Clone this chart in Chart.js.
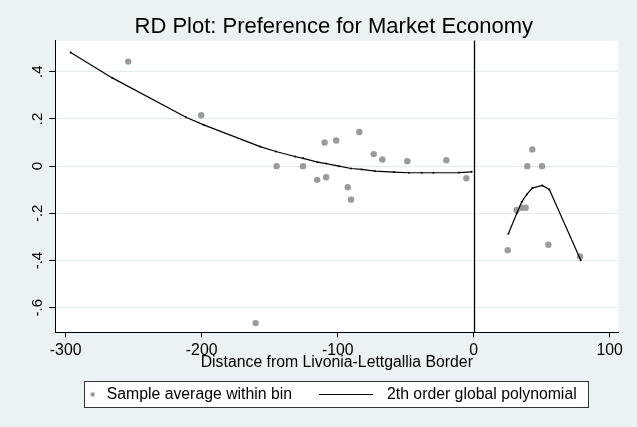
<!DOCTYPE html>
<html><head><meta charset="utf-8">
<script src="https://cdn.jsdelivr.net/npm/chart.js@4.4.1/dist/chart.umd.min.js"></script>
<style>html,body{margin:0;padding:0;background:#EAF2F3;}canvas{display:block;}</style>
</head><body>
<canvas id="c" width="637" height="427"></canvas>
<script>
// ---- data ----
const binX = [-254.0, -200.3, -160.3, -144.9, -125.5, -115.1, -108.5, -109.6, -101.1, -92.6, -90.2, -84.1, -73.5, -67.2, -48.8, -20.1, -5.4,
              25.0, 31.6, 35.3, 38.2, 39.4, 43.1, 50.2, 54.9, 78.2];
const binY = [0.443, 0.216, -0.665, 0.000, 0.000, -0.058, -0.047, 0.100, 0.109, -0.089, -0.142, 0.145, 0.051, 0.028, 0.021, 0.025, -0.051,
              -0.356, -0.186, -0.176, -0.176, 0.000, 0.071, 0.000, -0.333, -0.383];
const fitLeftX = [-296.3, -265.7, -211.5, -198.5, -157.0, -145.4, -131.4, -125.3, -114.8, -108.5, -99.0, -90.2, -82.4, -72.6, -58.6, -47.6, -38.2, -29.7, -10.8, -1.5];
const fitLeftY = [0.482, 0.374, 0.207, 0.175, 0.083, 0.062, 0.041, 0.033, 0.017, 0.011, 0.000, -0.010, -0.014, -0.021, -0.025, -0.028, -0.028, -0.028, -0.027, -0.024];
const fitRightX = [25.5, 31.6, 35.3, 39.0, 43.1, 50.4, 55.6, 78.7];
const fitRightY = [-0.286, -0.201, -0.152, -0.120, -0.093, -0.082, -0.099, -0.399];
const cutoff = [0];
const xTicks = [-300, -200, -100, 0, 100];
const yTicks = [-0.6, -0.4, -0.2, 0, 0.2, 0.4];
const yTickLabels = ['-.6', '-.4', '-.2', '0', '.2', '.4'];
const titleText = 'RD Plot: Preference for Market Economy';
const xTitleText = 'Distance from Livonia-Lettgallia Border';
const seriesNames = ['Sample average within bin', '2th order global polynomial'];

// ---- styling ----
const FONT = "'Liberation Sans', Arial, Helvetica, sans-serif";
const BG = '#EAF2F3';
const DOT = '#9B9B9B';
Chart.defaults.font.family = FONT;
Chart.defaults.color = '#000';

const toPts = (xs, ys) => xs.map((x, i) => ({x: x, y: ys[i]}));

const decor = {
  id: 'decor',
  beforeDraw(chart) {
    const {ctx, chartArea: a} = chart;
    ctx.save();
    ctx.fillStyle = BG;
    ctx.fillRect(0, 0, chart.width, chart.height);
    ctx.fillStyle = '#fff';
    ctx.fillRect(a.left, a.top, a.right - a.left, a.bottom - a.top);
    ctx.restore();
  },
  afterDatasetsDraw(chart) {
    const {ctx, chartArea: a, scales} = chart;
    ctx.save();
    ctx.strokeStyle = '#000';
    ctx.lineWidth = 1.3;
    cutoff.forEach(c => {
      const px = Math.round(scales.x.getPixelForValue(c)) + 0.5;
      ctx.beginPath(); ctx.moveTo(px, a.top); ctx.lineTo(px, a.bottom); ctx.stroke();
    });
    ctx.restore();
  },
  afterDraw(chart) {
    const {ctx, scales} = chart;
    ctx.save();
    // rotated y tick labels (Stata style)
    ctx.fillStyle = '#000';
    ctx.font = '15px ' + FONT;
    ctx.textAlign = 'center';
    ctx.textBaseline = 'middle';
    yTicks.forEach((v, i) => {
      const py = scales.y.getPixelForValue(v);
      ctx.save();
      ctx.translate(38, py);
      ctx.rotate(-Math.PI / 2);
      ctx.fillText(yTickLabels[i], 0, 0);
      ctx.restore();
    });
    // boxed legend
    const L = {left: 84.5, top: 381.5, right: 588.5, bottom: 407.5};
    const cy = (L.top + L.bottom) / 2;
    ctx.fillStyle = '#fff';
    ctx.fillRect(L.left, L.top, L.right - L.left, L.bottom - L.top);
    ctx.strokeStyle = '#333';
    ctx.lineWidth = 1;
    ctx.strokeRect(L.left, L.top, L.right - L.left, L.bottom - L.top);
    const ds = chart.data.datasets;
    ctx.fillStyle = ds[0].backgroundColor;
    ctx.beginPath(); ctx.arc(92.7, cy, 2.2, 0, Math.PI * 2); ctx.fill();
    ctx.fillStyle = '#000';
    ctx.font = '15.8px ' + FONT;
    ctx.textAlign = 'left';
    ctx.fillText(ds[0].label, 106.7, cy);
    ctx.strokeStyle = ds[1].borderColor;
    ctx.lineWidth = 1.2;
    ctx.beginPath(); ctx.moveTo(319, cy); ctx.lineTo(373, cy); ctx.stroke();
    ctx.fillText(ds[1].label, 387, cy);
    ctx.restore();
  }
};

new Chart(document.getElementById('c'), {
  type: 'scatter',
  data: {
    datasets: [
      {label: seriesNames[0], data: toPts(binX, binY), backgroundColor: DOT, borderWidth: 0, pointRadius: 3.2, order: 2},
      {label: seriesNames[1], data: toPts(fitLeftX, fitLeftY), showLine: true, borderColor: '#000', borderWidth: 1.2,
       pointRadius: 1, pointBackgroundColor: '#000', pointBorderWidth: 0, tension: 0, order: 1},
      {label: seriesNames[1], data: toPts(fitRightX, fitRightY), showLine: true, borderColor: '#000', borderWidth: 1.2,
       pointRadius: 1, pointBackgroundColor: '#000', pointBorderWidth: 0, tension: 0, order: 1}
    ]
  },
  options: {
    responsive: false,
    animation: false,
    devicePixelRatio: 1,
    layout: {padding: {left: 49.3, right: 18.7, top: 0, bottom: 56.1}},
    plugins: {
      legend: {display: false},
      tooltip: {enabled: false},
      title: {display: true, text: titleText, color: '#000',
              font: {size: 22, weight: 'normal', lineHeight: 1.2}, padding: {top: 14.2, bottom: 0}}
    },
    scales: {
      x: {
        type: 'linear', position: 'bottom', min: -307.6, max: 106.3,
        afterBuildTicks: s => { s.ticks = xTicks.map(v => ({value: v})); },
        ticks: {color: '#000', font: {size: 15.8, lineHeight: 1}, padding: 5, maxRotation: 0, autoSkip: false,
                callback: v => String(v)},
        grid: {drawOnChartArea: false, drawTicks: true, tickLength: 5, tickColor: '#000', tickWidth: 1},
        border: {color: '#000', width: 1},
        title: {display: true, text: xTitleText, color: '#000', font: {size: 15.8, lineHeight: 1}, padding: {top: -8, bottom: 0}}
      },
      y: {
        type: 'linear', min: -0.704, max: 0.532,
        afterBuildTicks: s => { s.ticks = yTicks.map(v => ({value: v})); },
        ticks: {display: false},
        grid: {color: '#E2EBED', lineWidth: 1, drawTicks: true, tickLength: 6, tickColor: '#000', tickWidth: 1},
        border: {color: '#000', width: 1}
      }
    }
  },
  plugins: [decor]
});
</script>
</body></html>
